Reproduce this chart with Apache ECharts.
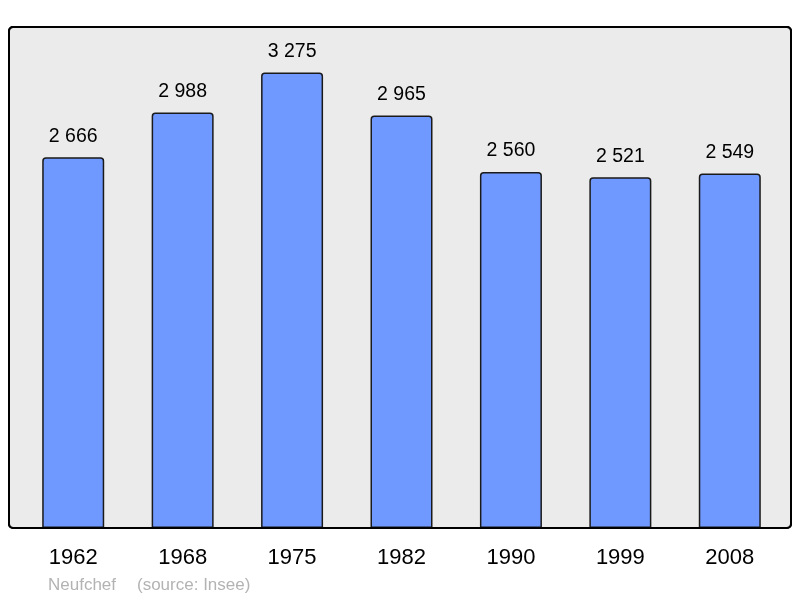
<!DOCTYPE html>
<html><head><meta charset="utf-8">
<script src="https://cdn.jsdelivr.net/npm/echarts@6/dist/echarts.min.js"></script>
<style>html,body{margin:0;padding:0;background:#fff}#c{width:800px;height:598px}</style>
</head><body><div id="c"></div>
<script>
var categories = ['1962','1968','1975','1982','1990','1999','2008'];
var population = [2666, 2988, 3275, 2965, 2560, 2521, 2549];
var footerTitle = 'Neufchef';
var footerSource = '(source: Insee)';

function fmt(v){ return String(v).replace(/\B(?=(\d{3})+(?!\d))/g, ' '); }

var chart = echarts.init(document.getElementById('c'), null, {renderer:'canvas'});
chart.setOption({
  animation: false,
  backgroundColor: '#ffffff',
  graphic: [
    {type:'rect', z:-10, shape:{x:9,y:27,width:782,height:501,r:4},
     style:{fill:'#ebebeb', stroke:'#000', lineWidth:2}},
    {type:'rect', z:100, silent:true, shape:{x:9,y:27,width:782,height:501,r:4},
     style:{fill:'none', stroke:'#000', lineWidth:2}},
    {type:'text', left:48, top:577, style:{text:footerTitle, fill:'#b3b3b3', font:'17px "Liberation Sans", Arial, sans-serif'}},
    {type:'text', left:137, top:577, style:{text:footerSource, fill:'#b3b3b3', font:'17px "Liberation Sans", Arial, sans-serif'}}
  ],
  grid: {left:18.5, right:15.5, top:27, bottom:70, containLabel:false},
  xAxis: {
    type:'category', data:categories,
    axisLine:{show:false}, axisTick:{show:false},
    axisLabel:{color:'#000', fontSize:22, fontFamily:'"Liberation Sans", Arial, sans-serif', margin:19}
  },
  yAxis: {type:'value', min:0, max:3602, show:false, splitLine:{show:false}},
  series: [{
    type:'bar', data:population, barWidth:62,
    itemStyle:{color:'#7099ff', borderColor:'#1a1a1a', borderWidth:1.5, borderRadius:[3,3,0,0]},
    label:{show:true, position:'top', distance:11, color:'#000', fontSize:19.5,
      fontFamily:'"Liberation Sans", Arial, sans-serif', formatter:function(p){return fmt(p.value);}}
  }]
});
</script></body></html>
